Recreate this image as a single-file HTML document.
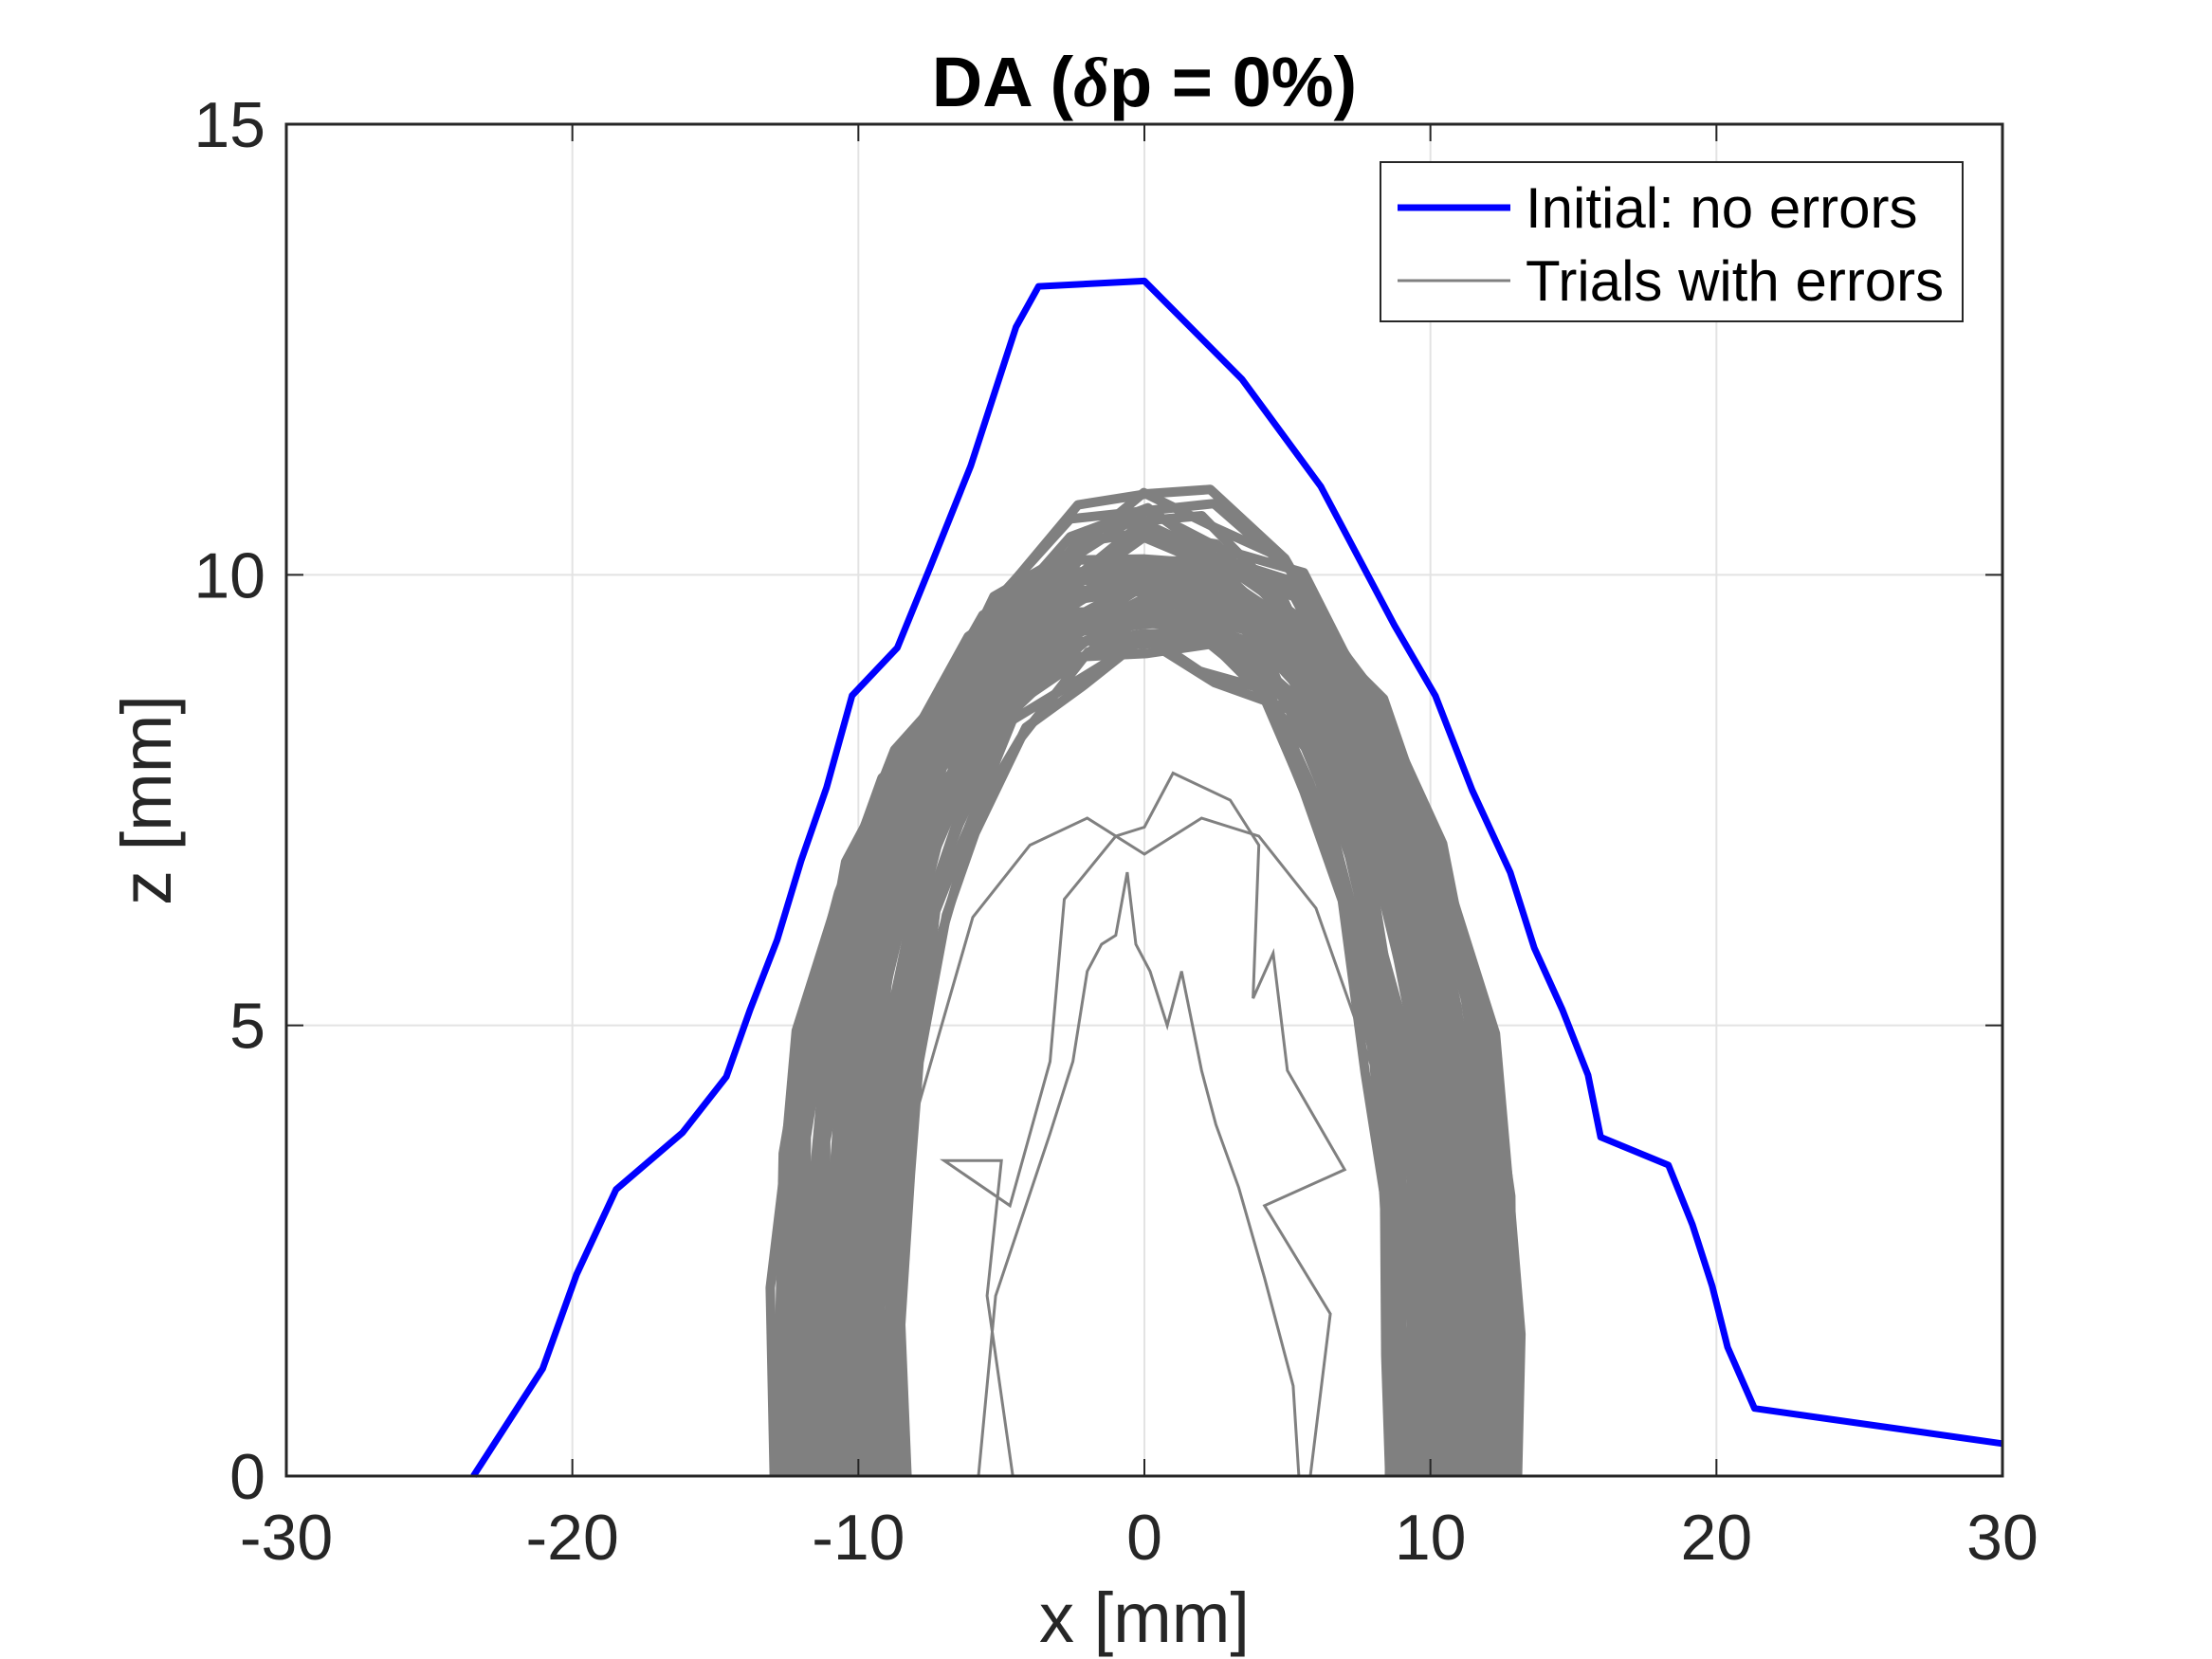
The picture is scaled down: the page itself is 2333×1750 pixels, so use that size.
<!DOCTYPE html>
<html><head><meta charset="utf-8"><style>
html,body{margin:0;padding:0;background:#fff;}
svg{display:block;font-family:"Liberation Sans",Arial,sans-serif;}
</style></head><body>
<svg id="chart" width="2333" height="1750" viewBox="0 0 2333 1750" xmlns="http://www.w3.org/2000/svg">
<rect x="0" y="0" width="2333" height="1750" fill="#fff"/>
<g id="grid"></g>
<g id="plot"></g>
<g id="axes"></g>
<text x="1207" y="112" text-anchor="middle" font-size="74" font-weight="bold" fill="#000">DA (<tspan font-style="italic" font-family="Liberation Serif, serif">δ</tspan>p = 0%)</text>
<text x="1207" y="1732" text-anchor="middle" font-size="74" fill="#262626">x [mm]</text>
<text transform="translate(180,844) rotate(-90)" text-anchor="middle" font-size="74" fill="#262626">z [mm]</text>
<g>
<rect x="1456" y="171" width="614" height="168" fill="#fff" stroke="#262626" stroke-width="2"/>
<line x1="1474" y1="219" x2="1593" y2="219" stroke="#0000ff" stroke-width="7"/>
<text x="1609" y="240" font-size="60" fill="#000">Initial: no errors</text>
<line x1="1474" y1="296" x2="1593" y2="296" stroke="#808080" stroke-width="3"/>
<text x="1609" y="317" font-size="60" fill="#000">Trials with errors</text>
</g>
</svg>
<script>
const xTicks = [-30,-20,-10,0,10,20,30];
const zTicks = [0,5,10,15];
const initialX = [-23.46,-21.04,-19.85,-18.47,-16.15,-14.62,-13.78,-12.84,-12.0,-11.11,-10.22,-8.64,-7.46,-6.07,-4.49,-3.70,0,3.41,6.17,8.74,10.17,11.46,12.79,13.63,14.62,15.51,15.95,18.32,19.16,19.85,20.39,21.33,30];
const initialZ = [0,1.19,2.24,3.18,3.81,4.43,5.18,5.95,6.83,7.64,8.66,9.19,10.11,11.21,12.75,13.20,13.26,12.17,10.98,9.44,8.66,7.61,6.70,5.86,5.17,4.45,3.76,3.45,2.79,2.11,1.43,0.75,0.36];
const baseX = [-10.5,-10.5,-10.3,-9.8,-8.8,-7.3,-5.2,-2.5,0,2.5,5.0,7.0,8.6,9.8,10.4,10.6,10.6];
const baseZ = [0,2,3.5,5,6.5,7.8,8.9,9.6,9.9,9.7,9.2,8.2,6.8,5,3.2,1.5,0];
const jitter = [0.25,-0.3,0.15,-0.1,0.3,-0.2,0.05,-0.25,0.2,-0.15,0.3,-0.05,0.1,-0.3,0.2,-0.1,0.25];
const trialSx = [0.80,0.82,0.84,0.86,0.88,0.90,0.92,0.94,0.95,0.97,0.98,1.00,1.01,1.03,1.04,1.06,1.07,1.09,1.10,1.12,1.14,1.16,1.18,1.20,1.22,1.24,0.85,0.91,0.99,1.05,1.11,0.93,1.02,1.08,0.89,0.96,1.13,1.00,1.04,0.83,0.87,1.15,1.19,0.97,1.06,1.21,0.81,1.02];
const trialSz = [0.93,0.96,0.98,1.00,0.95,1.02,0.97,1.04,0.99,1.01,1.06,0.94,1.03,1.00,1.05,0.98,1.02,1.07,0.96,1.01,1.04,0.99,1.03,1.00,0.98,0.97,1.08,0.97,1.10,0.95,1.00,1.06,0.92,1.02,0.99,1.05,0.97,1.09,1.01,0.95,1.03,1.02,0.99,1.11,0.96,1.01,0.94,1.07];
const outlier1X = [-5.8,-5.2,-3.3,-2.5,-2,-1.5,-1,-0.6,-0.3,0.2,0.8,1.3,2,2.5,3.3,4.2,5.2,5.4];
const outlier1Z = [0,2,3.8,4.6,5.6,5.9,6.0,6.7,5.9,5.6,5.0,5.6,4.5,3.9,3.2,2.2,1,0];
const outlier2X = [-4.6,-5.5,-5,-7,-4.7,-3.3,-2.8,-1,0,1,3,4,3.8,4.5,5,7,4.2,6.5,5.8];
const outlier2Z = [0,2,3.5,3.5,3,4.6,6.4,7.1,7.2,7.8,7.5,7.0,5.3,5.8,4.5,3.4,3.0,1.8,0];
const outlier3X = [-8,-6,-4,-2,0,2,4,6,8];
const outlier3Z = [4,6.2,7.0,7.3,6.9,7.3,7.1,6.3,4.5];

const L=302,R=2112,T=131,B=1557;
const sx = v => L + (v + 30) / 60 * (R - L);
const sz = v => B - v / 15 * (B - T);
const NS='http://www.w3.org/2000/svg';
function mk(tag, attrs, parent){const e=document.createElementNS(NS,tag);for(const k in attrs)e.setAttribute(k,attrs[k]);parent.appendChild(e);return e;}
const grid=document.getElementById('grid'), axes=document.getElementById('axes'), plot=document.getElementById('plot');
xTicks.forEach(t=>{
  if(t>-30&&t<30){const g=mk('line',{x1:sx(t),x2:sx(t),y1:T,y2:B,stroke:'#e3e3e3','stroke-width':2},grid);
  
  }
  const a=mk('line',{x1:sx(t),x2:sx(t),y1:B,y2:B-18,stroke:'#262626','stroke-width':2},axes);
  
  
  const b=mk('line',{x1:sx(t),x2:sx(t),y1:T,y2:T+18,stroke:'#262626','stroke-width':2},axes);
  
  
  const tx=mk('text',{x:sx(t),y:1645,'text-anchor':'middle','font-size':68,fill:'#262626'},axes);
  tx.textContent=String(t);
  
  
});
zTicks.forEach(t=>{
  if(t>0&&t<15){const g=mk('line',{x1:L,x2:R,y1:sz(t),y2:sz(t),stroke:'#e3e3e3','stroke-width':2},grid);
  
  }
  const a=mk('line',{x1:L,x2:L+18,y1:sz(t),y2:sz(t),stroke:'#262626','stroke-width':2},axes);
  
  
  const b=mk('line',{x1:R,x2:R-18,y1:sz(t),y2:sz(t),stroke:'#262626','stroke-width':2},axes);
  
  
  const tx=mk('text',{x:280,y:sz(t)+24,'text-anchor':'end','font-size':68,fill:'#262626'},axes);
  tx.textContent=String(t);
  
  
});
const frame=mk('rect',{x:L,y:T,width:R-L,height:B-T,fill:'none',stroke:'#262626','stroke-width':3},axes);



function poly(xs,zs){return xs.map((x,i)=>sx(x).toFixed(1)+','+sz(zs[i]).toFixed(1)).join(' ');}
trialSx.forEach((s,k)=>{
  const xs=baseX.map((x,i)=>x*s+jitter[(i+k)%jitter.length]*0.4);
  const zs=baseZ.map((z,i)=>Math.max(0,z*trialSz[k]+(i>0&&i<baseZ.length-1?jitter[(i+2*k)%jitter.length]*0.6:0)));
  const p=mk('polyline',{points:poly(xs,zs),fill:'none',stroke:'#808080','stroke-width':10,'stroke-linejoin':'round'},plot);
  
  
});
[[outlier1X,outlier1Z],[outlier2X,outlier2Z],[outlier3X,outlier3Z]].forEach(o=>{
  const p=mk('polyline',{points:poly(o[0],o[1]),fill:'none',stroke:'#808080','stroke-width':3},plot);
  
  
});
const ini=mk('polyline',{points:poly(initialX,initialZ),fill:'none',stroke:'#0000ff','stroke-width':7,'stroke-linejoin':'round'},plot);


</script>
</body></html>
